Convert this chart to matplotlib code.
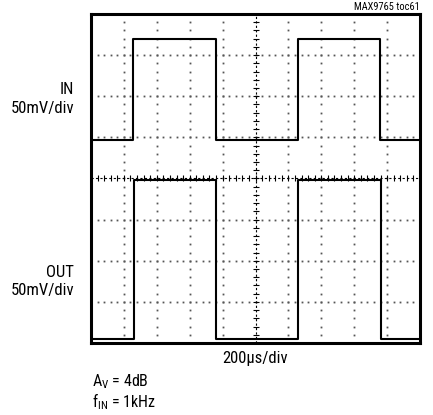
import numpy as np
import matplotlib.pyplot as plt
from matplotlib import font_manager

# scope trace data (divisions: x 0..10, y 0..8)
in_t = [0, 1.29, 1.29, 3.79, 3.79, 6.28, 6.28, 8.78, 8.78, 10]
in_v = [4.94, 4.94, 7.38, 7.38, 4.94, 4.94, 7.38, 7.38, 4.94, 4.94]
out_t = [0, 1.32, 1.32, 3.79, 3.79, 6.29, 6.29, 8.80, 8.80, 10]
out_v = [0.10, 0.10, 3.97, 3.97, 0.10, 0.10, 3.97, 3.97, 0.10, 0.10]

# pick a narrow sans if one is around
names = {f.name for f in font_manager.fontManager.ttflist}
fam = 'DejaVu Sans'
for cand in ['Liberation Sans Narrow', 'Roboto Condensed', 'Archivo Narrow',
             'PT Sans Narrow', 'Pragati Narrow', 'Open Sans Condensed']:
    if cand in names:
        fam = cand
        break
plt.rcParams['font.family'] = [fam, 'DejaVu Sans']
plt.rcParams['mathtext.fontset'] = 'custom'
plt.rcParams['mathtext.rm'] = fam

fig = plt.figure(figsize=(4.33, 4.15), dpi=100)
ax = fig.add_axes([91/433, 72/415, 329/433, 329/415])
ax.set_xlim(0, 10)
ax.set_ylim(0, 8)

# dotted graticule
sub = np.arange(0, 10.01, 0.2)
subv = np.arange(0, 8.01, 0.2)
for gx in range(1, 10):
    if gx == 5:
        continue
    ax.plot([gx] * len(subv), subv, ls='none', marker='s', ms=1.3, color='#555555', mew=0)
for gy in range(1, 8):
    if gy == 4:
        continue
    ax.plot(sub, [gy] * len(sub), ls='none', marker='s', ms=1.3, color='#555555', mew=0)

# center axes with minor ticks
ax.plot([5, 5], [0, 8], ls=(0, (2, 2)), color='black', lw=0.8)
ax.plot([0, 10], [4, 4], ls=(0, (2, 2)), color='black', lw=0.8)
ax.plot([5] * len(subv), subv, ls='none', marker='_', ms=4, color='black', mew=0.8)
ax.plot(sub, [4] * len(sub), ls='none', marker='|', ms=4, color='black', mew=0.8)

# traces
ax.plot(in_t, in_v, color='black', lw=1.5)
ax.plot(out_t, out_v, color='black', lw=1.5)

ax.set_xticks([])
ax.set_yticks([])
for s in ax.spines.values():
    s.set_linewidth(2.2)

fig.text(420/433, 1 - 7/415, 'MAX9765 toc61', ha='right', va='center', fontsize=7.5)
fig.text(74/433, 1 - 90/415, 'IN', ha='right', va='center', fontsize=12)
fig.text(74/433, 1 - 108/415, '50mV/div', ha='right', va='center', fontsize=12)
fig.text(74/433, 1 - 272/415, 'OUT', ha='right', va='center', fontsize=12)
fig.text(74/433, 1 - 290/415, '50mV/div', ha='right', va='center', fontsize=12)
fig.text(255/433, 1 - 358/415, '200\u03bcs/div', ha='center', va='center', fontsize=12)
fig.text(92/433, 1 - 382/415, r'A$_\mathregular{V}$ = 4dB', ha='left', va='center', fontsize=11.5)
fig.text(92/433, 1 - 402/415, r'f$_\mathregular{IN}$ = 1kHz', ha='left', va='center', fontsize=11.5)

fig.savefig('out.png', dpi=100)
